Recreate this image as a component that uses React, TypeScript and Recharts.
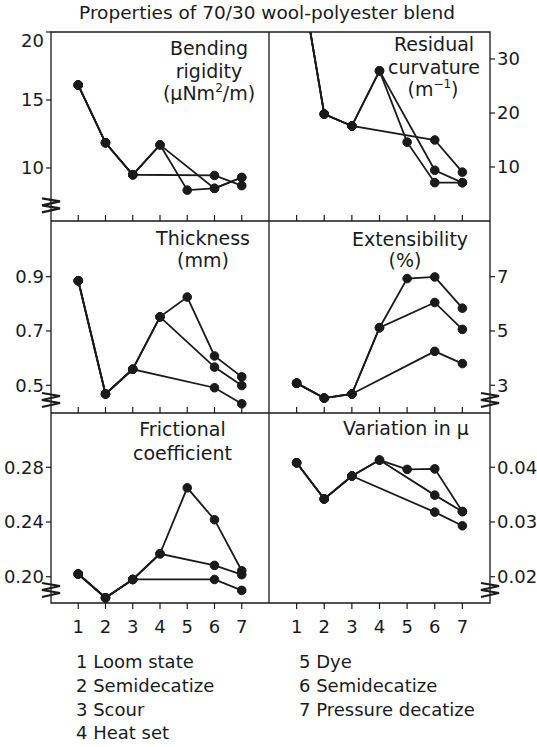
import React from 'react';
import { LineChart, Line, XAxis, YAxis, ReferenceArea, ReferenceDot } from 'recharts';

// Process steps (x categories)
const steps = [1, 2, 3, 4, 5, 6, 7];
const processNames = ['Loom state', 'Semidecatize', 'Scour', 'Heat set', 'Dye', 'Semidecatize', 'Pressure decatize'];

// Route A: 1-2-3-6-7, Route B: 1-2-3-4-6-7, Route C: 1-2-3-4-5-6-7
const bendingA = [16.1, 11.85, 9.5, null, null, 9.45, 8.7];
const bendingB = [16.1, 11.85, 9.5, 11.7, null, 8.5, 9.3];
const bendingC = [16.1, 11.85, 9.5, 11.7, 8.37, 8.5, 9.3];

const residualA = [50, 19.8, 17.6, null, null, 15.0, 9.05];
const residualB = [50, 19.8, 17.6, 27.8, null, 9.4, 7.1];
const residualC = [50, 19.8, 17.6, 27.8, 14.6, 7.1, 7.1];

const thicknessA = [0.885, 0.468, 0.559, null, null, 0.491, 0.432];
const thicknessB = [0.885, 0.468, 0.559, 0.752, null, 0.567, 0.499];
const thicknessC = [0.885, 0.468, 0.559, 0.752, 0.825, 0.608, 0.531];

const extensA = [3.08, 2.53, 2.68, null, null, 4.25, 3.8];
const extensB = [3.08, 2.53, 2.68, 5.12, null, 6.05, 5.06];
const extensC = [3.08, 2.53, 2.68, 5.12, 6.93, 6.99, 5.84];

const frictionA = [0.202, 0.1846, 0.198, null, null, 0.198, 0.19];
const frictionB = [0.202, 0.1846, 0.198, 0.2168, null, 0.2083, 0.2015];
const frictionC = [0.202, 0.1846, 0.198, 0.2168, 0.265, 0.2417, 0.2044];

const variationA = [0.0408, 0.0342, 0.0384, null, null, 0.0318, 0.0293];
const variationB = [0.0408, 0.0342, 0.0384, 0.0413, null, 0.0349, 0.0319];
const variationC = [0.0408, 0.0342, 0.0384, 0.0413, 0.0396, 0.0397, 0.0319];

// Axis ticks and labels
const bendingTicks = [10, 15, 20];
const bendingTickLabels = ['10', '15', '20'];
const residualTicks = [0, 10, 20, 30];
const residualTickLabels = ['0', '10', '20', '30'];
const thicknessTicks = [0.5, 0.7, 0.9];
const thicknessTickLabels = ['0.5', '0.7', '0.9'];
const extensTicks = [3, 5, 7];
const extensTickLabels = ['3', '5', '7'];
const frictionTicks = [0.2, 0.24, 0.28];
const frictionTickLabels = ['0.20', '0.24', '0.28'];
const variationTicks = [0.02, 0.03, 0.04];
const variationTickLabels = ['0.02', '0.03', '0.04'];

const INK = '#1a1a1a';
const FONT = '"DejaVu Sans", sans-serif';

const build = (a, b, c) => steps.map((s, i) => ({ step: s, a: a[i], b: b[i], c: c[i] }));

const Zigzag = (props) => {
  const { cx, cy } = props;
  if (cx == null || cy == null) return null;
  const pts = [
    [cx - 9, cy - 7],
    [cx + 9, cy - 4],
    [cx - 9, cy],
    [cx + 9, cy + 3],
    [cx - 9, cy + 7],
  ]
    .map((p) => p.join(','))
    .join(' ');
  return <polyline points={pts} fill="none" stroke={INK} strokeWidth={2.2} />;
};

type PanelProps = {
  data: any[];
  domain: [number, number];
  ticks: number[];
  tickLabels: string[];
  side: 'left' | 'right';
  bottom: boolean;
  breakAt?: number;
  width: number;
  height: number;
  top: number;
  left: number;
  marginTop?: number;
};

const Panel = ({ data, domain, ticks, tickLabels, side, bottom, breakAt, width, height, top, left, marginTop = 0 }: PanelProps) => {
  const fmt = (v) => {
    const idx = ticks.findIndex((t) => Math.abs(t - v) < 1e-9);
    return idx >= 0 ? tickLabels[idx] : '';
  };
  const lineProps = {
    type: 'linear' as const,
    stroke: INK,
    strokeWidth: 1.8,
    connectNulls: true,
    isAnimationActive: false,
    dot: { r: 4.3, fill: INK, stroke: INK, strokeWidth: 1 },
    activeDot: false,
  };
  return (
    <div style={{ position: 'absolute', left, top }}>
      <LineChart width={width} height={height} data={data} margin={{ top: marginTop, right: 0, bottom: 0, left: 0 }}>
        {bottom ? (
          <XAxis
            dataKey="step"
            type="number"
            domain={[0, 8]}
            ticks={steps}
            allowDataOverflow
            height={40}
            axisLine={false}
            tickLine={{ stroke: INK, strokeWidth: 1.2 }}
            tickSize={6}
            tickMargin={11}
            tick={{ fontSize: 18, fill: INK, fontFamily: FONT }}
          />
        ) : (
          <XAxis
            dataKey="step"
            type="number"
            domain={[0, 8]}
            ticks={steps}
            allowDataOverflow
            mirror
            height={10}
            axisLine={false}
            tickLine={{ stroke: INK, strokeWidth: 1.2 }}
            tickSize={6}
            tickFormatter={() => ''}
          />
        )}
        <YAxis
          type="number"
          orientation={side}
          width={side === 'left' ? 51 : 47}
          domain={domain}
          allowDataOverflow
          ticks={ticks}
          tickFormatter={fmt}
          axisLine={false}
          tickLine={{ stroke: INK, strokeWidth: 1.2 }}
          tickSize={5}
          tickMargin={2}
          tick={{ fontSize: 18, fill: INK, fontFamily: FONT }}
        />
        <ReferenceArea x1={0} x2={8} y1={domain[0]} y2={domain[1]} fill="none" stroke={INK} strokeWidth={1.3} ifOverflow="visible" />
        <Line dataKey="a" {...lineProps} />
        <Line dataKey="b" {...lineProps} />
        <Line dataKey="c" {...lineProps} />
        {breakAt != null && (
          <ReferenceDot x={side === 'left' ? 0 : 8} y={breakAt} ifOverflow="visible" shape={Zigzag} />
        )}
      </LineChart>
    </div>
  );
};

const L = 0;
const LW = 269;
const R = 269;
const RW = 268;

export default function App() {
  return (
    <div style={{ position: 'absolute', left: 0, top: 0, width: 537, height: 747, background: '#fff', fontFamily: FONT }}>
      {/* Row 1 */}
      <Panel data={build(bendingA, bendingB, bendingC)} domain={[6.1, 20]} ticks={bendingTicks} tickLabels={bendingTickLabels}
        side="left" bottom={false} breakAt={7.25} width={LW} height={191} top={30} left={L} marginTop={2} />
      <Panel data={build(residualA, residualB, residualC)} domain={[0, 35]} ticks={residualTicks} tickLabels={residualTickLabels}
        side="right" bottom={false} width={RW} height={191} top={30} left={R} marginTop={2} />
      {/* Row 2 */}
      <Panel data={build(thicknessA, thicknessB, thicknessC)} domain={[0.398, 1.105]} ticks={thicknessTicks} tickLabels={thicknessTickLabels}
        side="left" bottom={false} breakAt={0.446} width={LW} height={192} top={221} left={L} />
      <Panel data={build(extensA, extensB, extensC)} domain={[1.98, 9.05]} ticks={extensTicks} tickLabels={extensTickLabels}
        side="right" bottom={false} breakAt={2.46} width={RW} height={192} top={221} left={R} />
      {/* Row 3 */}
      <Panel data={build(frictionA, frictionB, frictionC)} domain={[0.1808, 0.3197]} ticks={frictionTicks} tickLabels={frictionTickLabels}
        side="left" bottom={true} breakAt={0.1903} width={LW} height={230} top={413} left={L} />
      <Panel data={build(variationA, variationB, variationC)} domain={[0.0152, 0.0499]} ticks={variationTicks} tickLabels={variationTickLabels}
        side="right" bottom={true} breakAt={0.01757} width={RW} height={230} top={413} left={R} />

      <svg width={537} height={747} style={{ position: 'absolute', left: 0, top: 0, pointerEvents: 'none' }}
        fontFamily={FONT} fill={INK}>
        <text x={267} y={19} fontSize={18.5} textAnchor="middle">Properties of 70/30 wool-polyester blend</text>

        <g fontSize={19} textAnchor="middle">
          <text x={209} y={55}>Bending</text>
          <text x={209} y={77.5}>rigidity</text>
          <text x={209} y={100}>
            (μNm<tspan dy={-8} fontSize={12}>2</tspan><tspan dy={8}>/m)</tspan>
          </text>

          <text x={434} y={50.5}>Residual</text>
          <text x={434} y={74}>curvature</text>
          <text x={433} y={96}>
            (m<tspan dy={-8} fontSize={12}>−1</tspan><tspan dy={8}>)</tspan>
          </text>

          <text x={203} y={245}>Thickness</text>
          <text x={203} y={267}>(mm)</text>

          <text x={410} y={245.5}>Extensibility</text>
          <text x={405} y={266.5}>(%)</text>

          <text x={182.5} y={436}>Frictional</text>
          <text x={182.5} y={460}>coefficient</text>

          <text x={406} y={435}>Variation in μ</text>
        </g>

        <g fontSize={18}>
          {processNames.map((name, i) => {
            const col = i < 4 ? 0 : 1;
            const row = i < 4 ? i : i - 4;
            return (
              <text key={i} x={col === 0 ? 76 : 299} y={668.3 + row * 23.7}>
                {`${steps[i]} ${name}`}
              </text>
            );
          })}
        </g>
      </svg>
    </div>
  );
}
